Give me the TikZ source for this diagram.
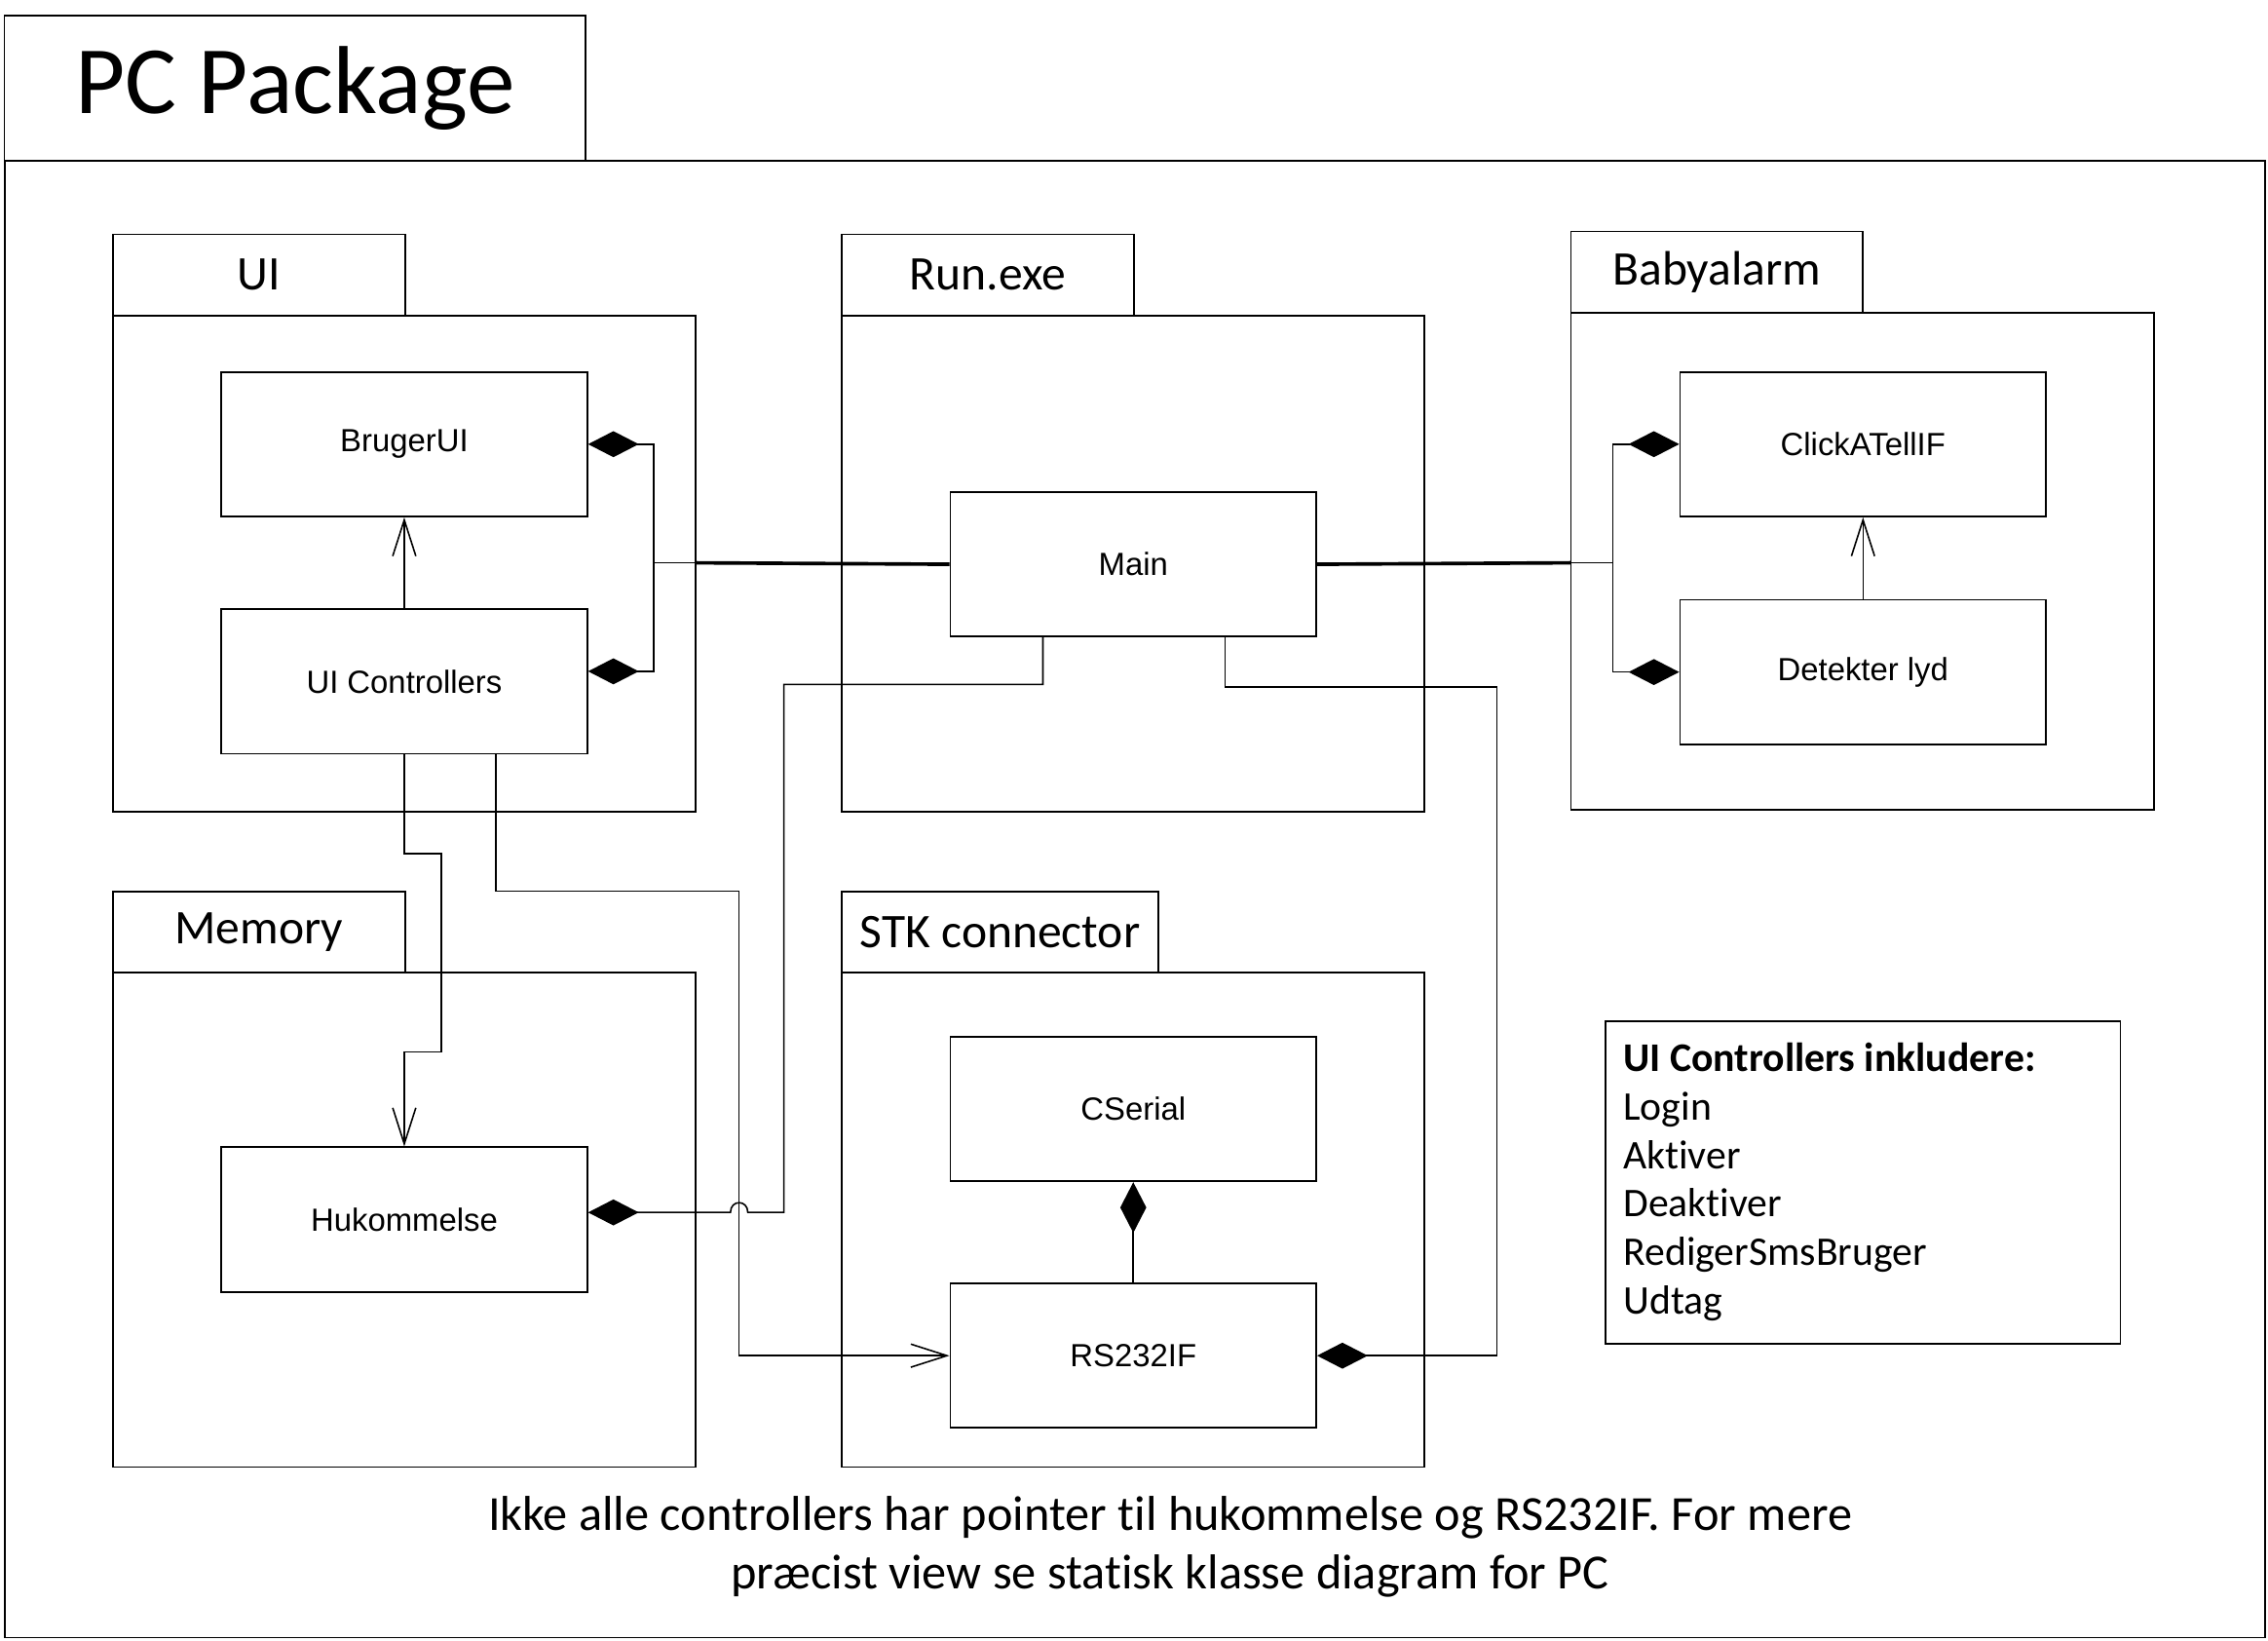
\documentclass[tikz,border=0pt]{standalone}
\usepackage{fontspec}
\setmainfont{Carlito}[Ligatures=NoCommon]
\newfontfamily\arialf{Liberation Sans}
\usetikzlibrary{arrows.meta}
\begin{document}
\begin{tikzpicture}[x=0.02cm,y=-0.02cm,
  box/.style={draw, line width=0.7pt, rectangle, inner sep=0pt},
  tab/.style={box, minimum width=4.04cm, minimum height=1.12cm, font=\fontsize{19}{23}\selectfont},
  body/.style={box, minimum width=8.06cm, minimum height=6.86cm},
  cls/.style={box, minimum width=5.06cm, minimum height=2cm, font=\arialf\fontsize{12.6}{15}\selectfont},
  conn/.style={line width=0.6pt},
  boldconn/.style={line width=1.4pt},
  comp/.style={conn, -{Diamond[length=0.7cm,width=0.36cm,fill=black]}},
  dep/.style={conn, -{Straight Barb[length=0.5cm,width=0.32cm]}},
]
\useasboundingbox (0,0) rectangle (1568,1134);
% outer package
\node[box, minimum width=31.26cm, minimum height=20.42cm] (outer) at (784.5,621.5) {};
\node[box, minimum width=8.04cm, minimum height=2cm, font=\fontsize{38}{44}\selectfont] (outertab) at (204,61) {PC Package};
% sub packages
\node[tab] (uitab) at (179,190) {UI};
\node[body] (uibody) at (279.5,389.5) {};
\node[tab] (runtab) at (683,190) {Run.exe};
\node[body] (runbody) at (783.5,389.5) {};
\node[tab] (babytab) at (1187,188) {Babyalarm};
\node[body, minimum height=6.88cm] (babybody) at (1287.5,388) {};
\node[tab] (memtab) at (179,644) {Memory};
\node[body, minimum height=6.84cm] (membody) at (279.5,843) {};
\node[tab, minimum width=4.38cm] (stktab) at (691.5,644) {STK connector};
\node[body, minimum height=6.84cm] (stkbody) at (783.5,843) {};
% classes
\node[cls] (brug) at (279.5,307) {BrugerUI};
\node[cls] (uic) at (279.5,471) {UI Controllers};
\node[cls] (main) at (783.5,390) {Main};
\node[cls] (click) at (1288,307) {ClickATellIF};
\node[cls] (det) at (1288,464.5) {Detekter lyd};
\node[cls] (huk) at (279.5,843) {Hukommelse};
\node[cls] (cser) at (783.5,766.5) {CSerial};
\node[cls] (rs) at (783.5,937) {RS232IF};
% junctions
\coordinate (jL) at (452,389);
\coordinate (jLb) at (481,389);
\coordinate (jR) at (1115,389);
\coordinate (jRb) at (1086,389);
% UI side
\draw[comp] (jL) |- (brug.east);
\draw[comp] (jL) |- ([yshift=0.14cm]uic.east);
\draw[conn] (jL) -- (jLb);
\draw[boldconn] (jLb) -- (main.west);
% Babyalarm side
\draw[boldconn] (main.east) -- (jRb);
\draw[conn] (jRb) -- (jR);
\draw[comp] (jR) |- (click.west);
\draw[comp] (jR) |- (det.west);
% dependencies
\draw[dep] (uic.north) -- (brug.south);
\draw[dep] (det.north) -- (click.south);
\draw[dep] (uic.south) -- (279.5,590) -- (305,590) -- (305,727) -- (279.5,727) -- (huk.north);
\draw[dep] ([xshift=1.27cm]uic.south) |- (511,616) -- (511,937) -- (rs.west);
% Main to Hukommelse with line hop
\draw[comp] ([xshift=-1.25cm]main.south) |- (542,473) -- (542,838) -- (517,838)
  .. controls (517,829) and (505,829) .. (505,838) -- ([yshift=0.1cm]huk.east);
% Main to RS232IF
\draw[comp] ([xshift=1.27cm]main.south) |- (1035,475) -- (1035,937) -- (rs.east);
% RS232IF to CSerial
\draw[comp] (rs.north) -- (cser.south);
% note
\node[box, minimum width=7.12cm, minimum height=4.46cm] (note) at (1288,817.5) {};
\node[anchor=west, align=left, inner sep=0pt, font=\fontsize{16}{19.1}\selectfont] (notetxt) at (1122,817) {\textbf{UI Controllers inkludere:}\\Login\\Aktiver\\Deaktiver\\RedigerSmsBruger\\Udtag};
% footer
\node[align=center, inner sep=0pt, font=\fontsize{19.3}{22.8}\selectfont] (foot) at (809,1069) {Ikke alle controllers har pointer til hukommelse og RS232IF. For mere\\præcist view se statisk klasse diagram for PC};
\end{tikzpicture}
\end{document}
